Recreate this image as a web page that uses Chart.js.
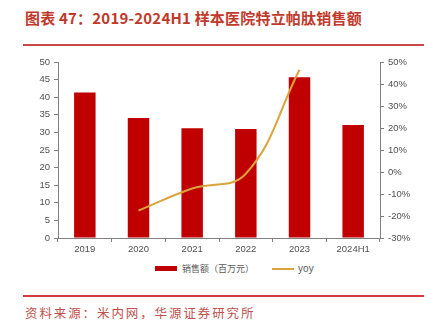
<!DOCTYPE html>
<html>
<head>
<meta charset="utf-8">
<script src="https://cdn.jsdelivr.net/npm/chart.js@4"></script>
<style>
  body { margin: 0; width: 432px; height: 328px; background: #fff; position: relative; overflow: hidden; }
  #title { position: absolute; left: 25px; top: 7px; font: bold 15px "Noto Sans CJK SC", sans-serif; letter-spacing: 0.2px; color: #c0392b; white-space: nowrap; }
  #rule1 { position: absolute; left: 23px; top: 44px; width: 401px; height: 2px; background: #c9494a; }
  #rule2 { position: absolute; left: 23px; top: 295px; width: 401px; height: 2px; background: #d8393f; }
  #source { position: absolute; left: 25px; top: 303px; font: 12.5px "Noto Sans CJK SC", sans-serif; letter-spacing: 1.9px; color: #c0504d; white-space: nowrap; }
  #wrap { position: absolute; left: 0; top: 50px; width: 432px; height: 210px; }
  #legend { position: absolute; top: 261px; left: 155px; font: 9px "Noto Sans CJK SC", sans-serif; color: #595959; white-space: nowrap; }
  #legend span { display: inline-block; vertical-align: middle; }
</style>
</head>
<body>
<div id="title">图表 47：2019-2024H1 样本医院特立帕肽销售额</div>
<div id="rule1"></div>
<div id="wrap"><canvas id="c"></canvas></div>
<div id="legend">
  <span style="width:22px;height:5px;background:#c00000;"></span>
  <span style="margin-left:3px;">销售额（百万元）</span>
  <span style="margin-left:16px;width:22px;height:2px;background:#daa33b;"></span>
  <span style="margin-left:2px;font-family:'Liberation Sans',sans-serif;font-size:10px;">yoy</span>
</div>
<div id="rule2"></div>
<div id="source">资料来源：米内网，华源证券研究所</div>

<script>
// data
const years = ['2019', '2020', '2021', '2022', '2023', '2024H1'];
const sales = [41.3, 34.1, 31.2, 31.0, 45.7, 32.1];   // 百万元
const yoy = [null, -17.5, -7.5, -0.8, 46.5, null];   // %

const tickFont = { family: 'Liberation Sans', size: 9.5 };
const gray = '#505050';
const axisColor = '#808080';

new Chart(document.getElementById('c'), {
  data: {
    labels: years,
    datasets: [
      {
        type: 'line',
        label: 'yoy',
        data: yoy,
        yAxisID: 'y1',
        borderColor: '#daa33b',
        borderWidth: 2,
        pointRadius: 0,
        tension: 0.4,
        fill: false,
        order: 0
      },
      {
        type: 'bar',
        label: '销售额（百万元）',
        data: sales,
        yAxisID: 'y',
        backgroundColor: '#c00000',
        barPercentage: 0.4,
        categoryPercentage: 1,
        order: 1
      }
    ]
  },
  options: {
    responsive: true,
    maintainAspectRatio: false,
    animation: false,
    layout: { padding: { left: 20, right: 12, top: 12, bottom: 0 } },
    plugins: { legend: { display: false }, tooltip: { enabled: false } },
    scales: {
      x: {
        grid: { display: true, drawOnChartArea: false, color: axisColor, tickLength: 4 },
        border: { color: axisColor },
        ticks: { color: gray, font: tickFont, padding: 2 },
        afterFit: s => { s.height = 22; }
      },
      y: {
        position: 'left',
        min: 0, max: 50,
        grid: { drawOnChartArea: false, color: axisColor, tickLength: 4 },
        border: { color: axisColor },
        ticks: { stepSize: 5, color: gray, font: tickFont, padding: 4 },
        afterFit: s => { s.width = 38; }
      },
      y1: {
        position: 'right',
        min: -30, max: 50,
        grid: { drawOnChartArea: false, color: axisColor, tickLength: 4 },
        border: { color: axisColor },
        ticks: { stepSize: 10, color: gray, font: tickFont, padding: 4, callback: v => v + '%' },
        afterFit: s => { s.width = 40; }
      }
    }
  }
});
</script>
</body>
</html>
